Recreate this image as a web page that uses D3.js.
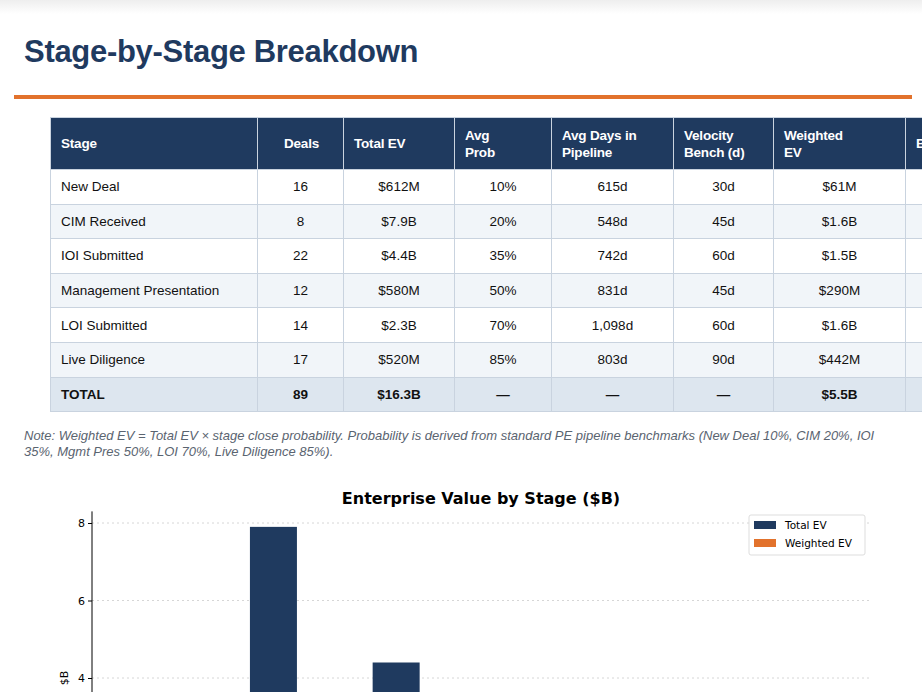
<!DOCTYPE html>
<html><head><meta charset="utf-8">
<script src="https://cdn.jsdelivr.net/npm/d3@7"></script>
<style>
body{margin:0;width:922px;height:692px;overflow:hidden;background:#fff;font-family:"Liberation Sans",Arial,sans-serif;position:relative}
#shade{position:absolute;left:0;top:0;width:922px;height:14px;background:linear-gradient(#eee,#fff)}
h1{position:absolute;left:24px;top:34px;margin:0;font-size:31px;color:#1f3a5f;font-weight:bold;letter-spacing:-0.3px}
#rule{position:absolute;left:14px;top:95px;width:898px;height:4px;background:#e2722c}
table{position:absolute;left:50px;top:117px;width:827px;border-collapse:collapse;font-size:13.5px;color:#111;table-layout:fixed}
th{background:#1f3a5f;color:#fff;text-align:left;font-weight:bold;font-size:13.5px;padding:0 8px 0 10px;height:51px;border:1px solid #c9d3df;line-height:17px;letter-spacing:-0.2px}
td{height:33.6px;padding:0 8px;border:1px solid #c9d3df;text-align:center}
td:first-child{text-align:left;padding-left:10px}
tr.alt td{background:#f1f5f9}
tr.tot td{background:#dde6ef;font-weight:bold}
.yes{color:#c0392b;font-weight:bold}
#note{position:absolute;left:24px;top:428px;width:870px;font-size:13px;font-style:italic;color:#5a6470;line-height:15.5px}
svg{position:absolute;left:0;top:470px}
</style></head><body>
<div id="shade"></div>
<h1>Stage-by-Stage Breakdown</h1>
<div id="rule"></div>
<table id="tbl"></table>
<div id="note">Note: Weighted EV = Total EV × stage close probability. Probability is derived from standard PE pipeline benchmarks (New Deal 10%, CIM 20%, IOI 35%, Mgmt Pres 50%, LOI 70%, Live Diligence 85%).</div>
<svg id="chart" width="922" height="222"></svg>
<script>
const headers = ["Stage","Deals","Total EV","Avg<br>Prob","Avg Days in<br>Pipeline","Velocity<br>Bench (d)","Weighted<br>EV","Bottleneck?"];
const colWidths = [188,67,92,78,103,81,113,105];
const stages = ["New Deal","CIM Received","IOI Submitted","Management Presentation","LOI Submitted","Live Diligence"];
const deals = [16,8,22,12,14,17];
const totalEVLabels = ["$612M","$7.9B","$4.4B","$580M","$2.3B","$520M"];
const probs = ["10%","20%","35%","50%","70%","85%"];
const avgDays = ["615d","548d","742d","831d","1,098d","803d"];
const bench = ["30d","45d","60d","45d","60d","90d"];
const weightedLabels = ["$61M","$1.6B","$1.5B","$290M","$1.6B","$442M"];
const totalRow = ["TOTAL","89","$16.3B","—","—","—","$5.5B","—"];
const totalEV = [0.612,7.9,4.4,0.58,2.3,0.52];
const weightedEV = [0.061,1.6,1.5,0.29,1.6,0.442];
const yTicks = [4,6,8];

const tbl = d3.select("#tbl");
tbl.append("tr").selectAll("th").data(headers).join("th")
  .style("width",(d,i)=>colWidths[i]+"px")
  .style("text-align",(d,i)=>i==1?"center":"left")
  .html(d=>d);
stages.forEach((s,i)=>{
  const tr = tbl.append("tr").attr("class", i%2 ? "alt" : "");
  [s,deals[i],totalEVLabels[i],probs[i],avgDays[i],bench[i],weightedLabels[i]].forEach(v=>tr.append("td").text(v));
  tr.append("td").attr("class","yes").text("■ YES");
});
tbl.append("tr").attr("class","tot").selectAll("td").data(totalRow).join("td").text(d=>d);

const svg = d3.select("#chart");
const x = d3.scaleBand().domain(stages).range([92,870]).paddingOuter(0.17).paddingInner(0);
const y = d3.scaleLinear().domain([0,8]).range([363,53]);
const bw = 47;
svg.append("text").attr("x",481).attr("y",34).attr("text-anchor","middle")
  .attr("font-family","DejaVu Sans").attr("font-weight","bold").attr("font-size",16).text("Enterprise Value by Stage ($B)");
svg.append("g").selectAll("line").data(yTicks).join("line")
  .attr("x1",92).attr("x2",870).attr("y1",d=>y(d)).attr("y2",d=>y(d))
  .attr("stroke","#ccc").attr("stroke-dasharray","2,3").attr("stroke-width",0.8);
const ax = svg.append("g").attr("transform","translate(92,0)")
  .call(d3.axisLeft(y).tickValues(yTicks).tickSize(4).tickPadding(3));
ax.select(".domain").attr("d","M0,"+y(8.3)+"V"+y(0));
ax.selectAll("text").attr("font-family","DejaVu Sans").attr("font-size",11);
svg.append("text").attr("transform","translate(68,"+y(4)+") rotate(-90)").attr("text-anchor","middle")
  .attr("font-family","DejaVu Sans").attr("font-size",11).text("$B");
const cx = d => x(d)+x.bandwidth()/2;
svg.append("g").selectAll("rect").data(stages).join("rect")
  .attr("x",d=>cx(d)-bw).attr("width",bw)
  .attr("y",(d,i)=>y(totalEV[i])).attr("height",(d,i)=>y(0)-y(totalEV[i])).attr("fill","#1f3a5f");
svg.append("g").selectAll("rect").data(stages).join("rect")
  .attr("x",d=>cx(d)).attr("width",bw)
  .attr("y",(d,i)=>y(weightedEV[i])).attr("height",(d,i)=>y(0)-y(weightedEV[i])).attr("fill","#e2722c");
const lg = svg.append("g").attr("transform","translate(749,45)");
lg.append("rect").attr("width",116).attr("height",40).attr("fill","#fff").attr("stroke","#ddd").attr("rx",2);
[["Total EV","#1f3a5f"],["Weighted EV","#e2722c"]].forEach((d,i)=>{
  lg.append("rect").attr("x",5).attr("y",6+i*18).attr("width",22).attr("height",8).attr("fill",d[1]);
  lg.append("text").attr("x",36).attr("y",14+i*18).attr("font-family","DejaVu Sans").attr("font-size",10.5).text(d[0]);
});
</script>
</body></html>
